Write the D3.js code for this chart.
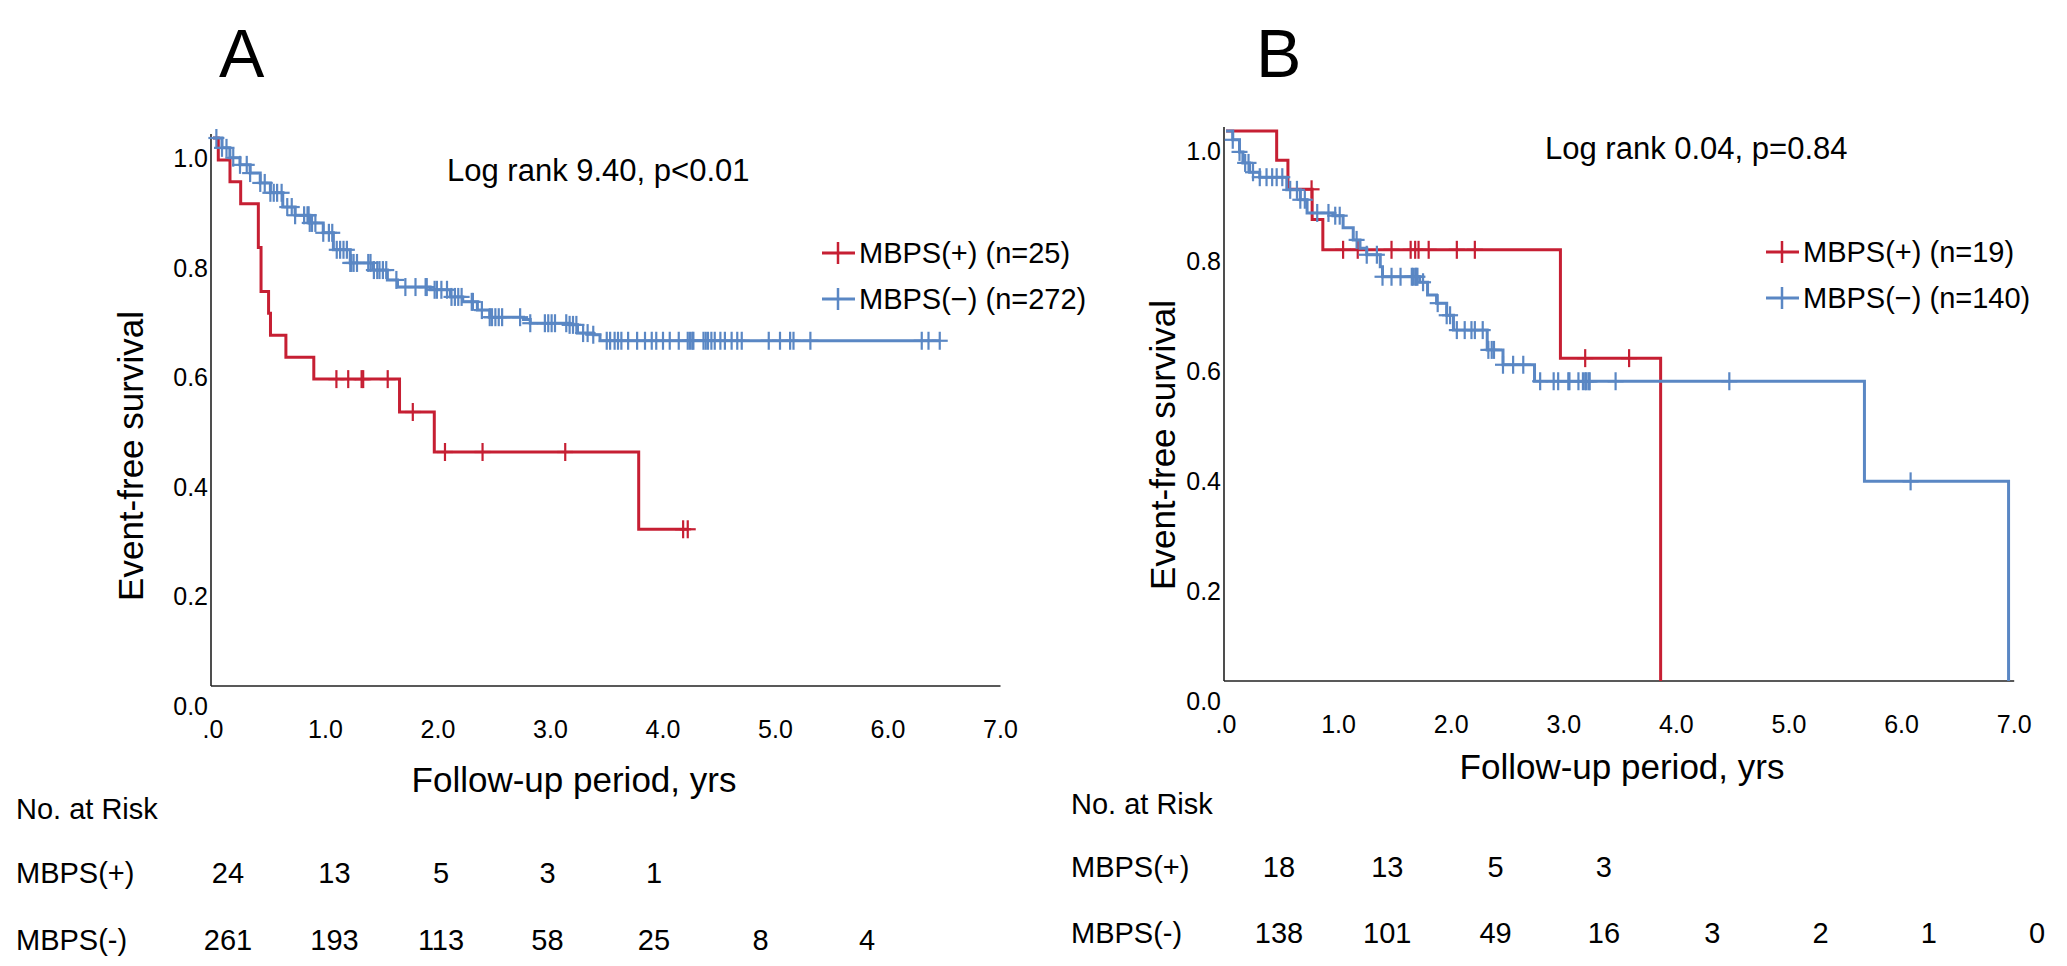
<!DOCTYPE html>
<meta charset="utf-8">
<style>
  body { margin: 0; background: #fff; }
  text { font-family: "Liberation Sans", Arial, sans-serif; fill: #000; }
  .axis-line { stroke: #222; stroke-width: 1.6px; }
  .km { fill: none; stroke-width: 3px; }
  .cens { stroke-width: 2.2px; }
</style>
<svg width="2067" height="966"></svg>
<script src="https://cdn.jsdelivr.net/npm/d3@7"></script>
<script>

  // axis ticks
  var timeTicks = [0, 1, 2, 3, 4, 5, 6, 7];
  var timeLabels = [".0", "1.0", "2.0", "3.0", "4.0", "5.0", "6.0", "7.0"];
  var survTicks = [1.0, 0.8, 0.6, 0.4, 0.2, 0.0];
  var survLabels = ["1.0", "0.8", "0.6", "0.4", "0.2", "0.0"];

  // panel A : [years, survival] at each drop
  var aPosSteps = [[0, 1], [0.047, 0.96], [0.151, 0.92], [0.246, 0.88], [0.403, 0.80], [0.427, 0.72],
    [0.494, 0.68], [0.511, 0.64], [0.648, 0.60], [0.896, 0.56], [1.658, 0.50], [1.967, 0.427], [3.784, 0.286]];
  var aPosCensor = [1.097, 1.202, 1.321, 1.335, 1.553, 1.776, 2.062, 2.396, 3.131, 4.179, 4.22];
  var aPosEnd = 4.22;

  var aNegSteps = [[0, 1], [0.08, 0.982], [0.15, 0.964], [0.24, 0.951], [0.33, 0.936], [0.42, 0.918],
    [0.51, 0.900], [0.62, 0.874], [0.73, 0.859], [0.86, 0.845], [0.98, 0.827], [1.07, 0.796], [1.22, 0.772],
    [1.42, 0.759], [1.55, 0.741], [1.64, 0.728], [1.93, 0.723], [2.11, 0.710], [2.22, 0.701], [2.35, 0.686],
    [2.46, 0.673], [2.76, 0.669], [2.82, 0.662], [3.17, 0.659], [3.24, 0.644], [3.38, 0.641], [3.44, 0.630]];
  var aNegCensor = [0.03, 0.08, 0.12, 0.18, 0.24, 0.30, 0.33, 0.42, 0.46, 0.51, 0.54, 0.57, 0.61, 0.66,
    0.70, 0.73, 0.81, 0.84, 0.85, 0.86, 0.88, 0.91, 0.98, 1.03, 1.06, 1.10, 1.13, 1.16, 1.19, 1.22, 1.23,
    1.25, 1.28, 1.38, 1.40, 1.43, 1.46, 1.48, 1.51, 1.54, 1.63, 1.71, 1.80, 1.89, 1.90, 1.97, 1.99, 2.03,
    2.08, 2.12, 2.15, 2.18, 2.21, 2.30, 2.31, 2.39, 2.46, 2.48, 2.51, 2.54, 2.57, 2.73, 2.82, 2.95, 2.98,
    3.01, 3.04, 3.14, 3.17, 3.20, 3.23, 3.29, 3.33, 3.38, 3.50, 3.53, 3.57, 3.60, 3.63, 3.69, 3.77, 3.84,
    3.90, 3.94, 4.00, 4.06, 4.14, 4.22, 4.24, 4.26, 4.27, 4.36, 4.38, 4.40, 4.43, 4.46, 4.51, 4.55, 4.61,
    4.66, 4.70, 4.94, 5.04, 5.13, 5.16, 5.31, 6.30, 6.36, 6.46];
  var aNegEnd = 6.46;

  // panel B
  var bPosSteps = [[0, 1], [0.45, 0.947], [0.55, 0.894], [0.765, 0.839], [0.86, 0.784], [2.97, 0.587], [3.86, 0]];
  var bPosCensor = [0.76, 1.04, 1.17, 1.47, 1.64, 1.68, 1.71, 1.80, 2.05, 2.21, 3.19, 3.58];

  var bNegSteps = [[0, 1], [0.06, 0.984], [0.12, 0.962], [0.15, 0.942], [0.21, 0.925], [0.30, 0.916],
    [0.54, 0.893], [0.66, 0.875], [0.72, 0.851], [0.95, 0.846], [1.04, 0.824], [1.13, 0.802], [1.19, 0.787],
    [1.25, 0.775], [1.37, 0.753], [1.39, 0.735], [1.72, 0.725], [1.79, 0.702], [1.87, 0.687], [1.96, 0.665],
    [2.02, 0.638], [2.32, 0.602], [2.46, 0.575], [2.74, 0.545], [5.67, 0.363], [6.95, 0]];
  var bNegCensor = [0.06, 0.12, 0.17, 0.20, 0.24, 0.30, 0.36, 0.41, 0.45, 0.50, 0.57, 0.63, 0.66, 0.70,
    0.81, 0.91, 0.97, 1.01, 1.16, 1.25, 1.34, 1.39, 1.47, 1.55, 1.65, 1.66, 1.68, 1.69, 1.70, 1.75, 1.88,
    1.96, 1.99, 2.05, 2.12, 2.18, 2.21, 2.28, 2.33, 2.36, 2.38, 2.46, 2.55, 2.64, 2.79, 2.91, 2.95, 3.04,
    3.05, 3.13, 3.17, 3.19, 3.20, 3.22, 3.23, 3.46, 4.47, 6.08];

  // numbers at risk, one column per year
  var aRiskPos = [24, 13, 5, 3, 1];
  var aRiskNeg = [261, 193, 113, 58, 25, 8, 4];
  var bRiskPos = [18, 13, 5, 3];
  var bRiskNeg = [138, 101, 49, 16, 3, 2, 1, 0];

  var red = "#c61f33", blue = "#5a87c4";
  var svg = d3.select("svg");

  var line = d3.line().curve(d3.curveStepAfter);
  var bisect = d3.bisector(function (d) { return d[0]; }).right;

  function valueAt(steps, t) {
    return steps[Math.max(0, bisect(steps, t) - 1)][1];
  }

  function drawPanel(p) {
    var x = d3.scaleLinear().domain([0, 7]).range([p.x0, p.x0 + 7 * p.dx]);
    var y = d3.scaleLinear().domain([0, 1]).range([p.y0, p.y1]);
    var g = svg.append("g");

    // axes lines
    g.append("line").attr("class", "axis-line")
      .attr("x1", x(0) - 2).attr("x2", x(0) - 2).attr("y1", y(1) - 4).attr("y2", y(0));
    g.append("line").attr("class", "axis-line")
      .attr("x1", x(0) - 2).attr("x2", x(7)).attr("y1", y(0)).attr("y2", y(0));

    // y tick labels (sit just below their value, as in the SPSS output)
    g.selectAll(".ylab").data(survTicks).enter().append("text")
      .attr("x", x(0) - 5).attr("y", function (d) { return y(d) + 29; })
      .attr("text-anchor", "end").style("font-size", "25px")
      .text(function (d, i) { return survLabels[i]; });

    // x tick labels
    g.selectAll(".xlab").data(timeTicks).enter().append("text")
      .attr("x", function (d) { return x(d); }).attr("y", y(0) + 52)
      .attr("text-anchor", "middle").style("font-size", "25px")
      .text(function (d, i) { return timeLabels[i]; });

    // axis titles
    g.append("text").attr("transform", "translate(" + p.ytx + "," + p.yty + ") rotate(-90)")
      .attr("text-anchor", "middle").style("font-size", "35px").text("Event-free survival");
    g.append("text").attr("x", p.xtx).attr("y", p.xty)
      .attr("text-anchor", "middle").style("font-size", "35px").text("Follow-up period, yrs");

    // panel letter and log-rank
    g.append("text").attr("x", p.letterX).attr("y", 77).style("font-size", "68px").text(p.letter);
    g.append("text").attr("x", p.lrX).attr("y", p.lrY).style("font-size", "31px").text(p.logrank);

    // curves
    p.series.forEach(function (s) {
      var pts = s.steps.slice();
      if (s.end != null) pts.push([s.end, pts[pts.length - 1][1]]);
      g.append("path").attr("class", "km").attr("stroke", s.color)
        .attr("d", line(pts.map(function (d) { return [x(d[0]), y(d[1])]; })));
      var c = g.append("g").attr("stroke", s.color).attr("class", "cens");
      s.censor.forEach(function (t) {
        var cx = x(t), cy = y(valueAt(s.steps, t));
        c.append("line").attr("x1", cx).attr("x2", cx).attr("y1", cy - 9).attr("y2", cy + 9);
        c.append("line").attr("x1", cx - 8).attr("x2", cx + 8).attr("y1", cy).attr("y2", cy);
      });
    });

    // legend
    p.series.forEach(function (s, i) {
      var ly = p.legY + i * 46;
      g.append("line").attr("stroke", s.color).attr("stroke-width", 3)
        .attr("x1", p.legX).attr("x2", p.legX + 33).attr("y1", ly).attr("y2", ly);
      g.append("line").attr("stroke", s.color).attr("stroke-width", 2.5)
        .attr("x1", p.legX + 16).attr("x2", p.legX + 16).attr("y1", ly - 11).attr("y2", ly + 11);
      g.append("text").attr("x", p.legX + 37).attr("y", ly + 10)
        .style("font-size", "29px").text(s.label);
    });

    // numbers at risk
    var r = d3.scaleLinear().domain([0, 1]).range([p.riskX0, p.riskX0 + p.riskDx]);
    g.append("text").attr("x", p.tabX).attr("y", p.tabY).style("font-size", "29px").text("No. at Risk");
    p.risk.forEach(function (row, i) {
      var ry = p.tabY + p.rowGap1 + i * p.rowGap2;
      g.append("text").attr("x", p.tabX).attr("y", ry).style("font-size", "29px").text(row.label);
      g.selectAll(null).data(row.values).enter().append("text")
        .attr("x", function (d, j) { return r(j); }).attr("y", ry)
        .attr("text-anchor", "middle").style("font-size", "29px")
        .text(function (d) { return d; });
    });
  }

  drawPanel({
    letter: "A", letterX: 219, x0: 213, dx: 112.5, y0: 686, y1: 138,
    ytx: 143, yty: 456, xtx: 574, xty: 792,
    lrX: 447, lrY: 181, logrank: "Log rank 9.40, p<0.01",
    legX: 822, legY: 253,
    series: [
      { label: "MBPS(+) (n=25)", color: red, steps: aPosSteps, censor: aPosCensor, end: aPosEnd },
      { label: "MBPS(\u2212) (n=272)", color: blue, steps: aNegSteps, censor: aNegCensor, end: aNegEnd }
    ],
    tabX: 16, tabY: 819, rowGap1: 64, rowGap2: 67, riskX0: 228, riskDx: 106.5,
    risk: [{ label: "MBPS(+)", values: aRiskPos }, { label: "MBPS(-)", values: aRiskNeg }]
  });

  drawPanel({
    letter: "B", letterX: 1256, x0: 1226, dx: 112.6, y0: 681, y1: 131,
    ytx: 1175, yty: 445, xtx: 1622, xty: 779,
    lrX: 1545, lrY: 159, logrank: "Log rank 0.04, p=0.84",
    legX: 1766, legY: 252,
    series: [
      { label: "MBPS(+) (n=19)", color: red, steps: bPosSteps, censor: bPosCensor, end: null },
      { label: "MBPS(\u2212) (n=140)", color: blue, steps: bNegSteps, censor: bNegCensor, end: null }
    ],
    tabX: 1071, tabY: 814, rowGap1: 63, rowGap2: 66, riskX0: 1279, riskDx: 108.3,
    risk: [{ label: "MBPS(+)", values: bRiskPos }, { label: "MBPS(-)", values: bRiskNeg }]
  });

</script>
